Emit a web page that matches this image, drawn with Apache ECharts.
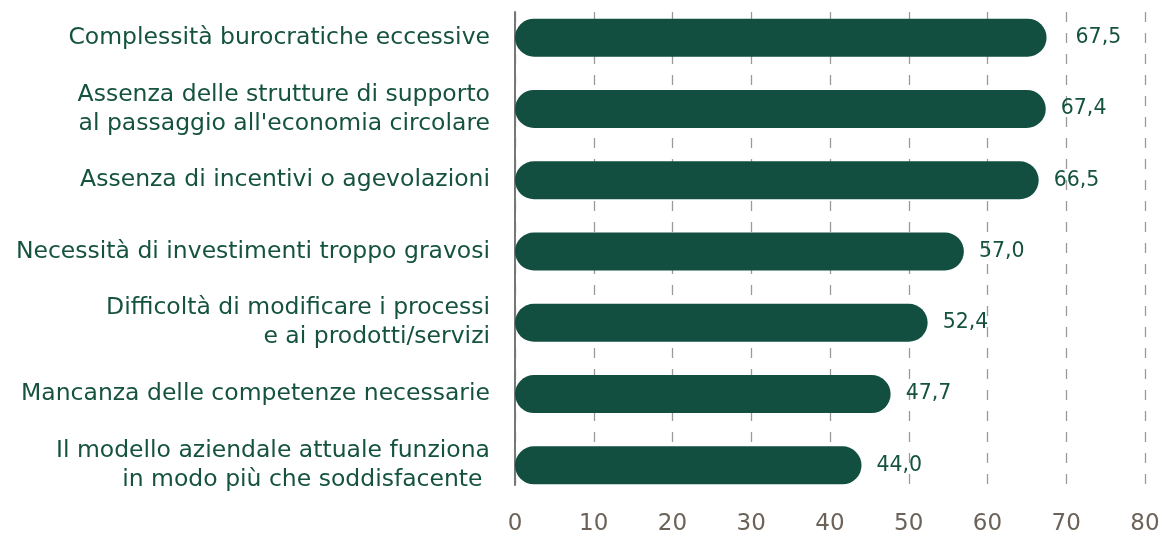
<!DOCTYPE html>
<html><head><meta charset="utf-8">
<script src="https://cdn.jsdelivr.net/npm/echarts@6/dist/echarts.min.js"></script>
<style>html,body{margin:0;padding:0;background:#fff}#c{width:1163px;height:536px}</style>
</head><body><div id="c"></div>
<script>
const categories = [
  "Complessità burocratiche eccessive",
  "Assenza delle strutture di supporto\nal passaggio all'economia circolare",
  "Assenza di incentivi o agevolazioni",
  "Necessità di investimenti troppo gravosi",
  "Difficoltà di modificare i processi\ne ai prodotti/servizi",
  "Mancanza delle competenze necessarie",
  "Il modello aziendale attuale funziona\nin modo più che soddisfacente "
];
const values = [67.5, 67.4, 66.5, 57.0, 52.4, 47.7, 44.0];
const xTicks = [0, 10, 20, 30, 40, 50, 60, 70, 80];

const FONT = "DejaVu Sans";
const GREEN = '#134f41';
const TXT = '#15533f';
const chart = echarts.init(document.getElementById('c'));
chart.setOption({
  animation: false,
  grid: [
    {left: 515, right: 18, top: 12, bottom: 49},
    {left: 515, right: 18, top: 2, bottom: 35}
  ],
  xAxis: [{
    gridIndex: 0, type: 'value', min: xTicks[0], max: xTicks[xTicks.length-1], interval: 10,
    axisLine: {show: false}, axisTick: {show: false},
    axisLabel: {color: '#6b6359', fontSize: 23, fontFamily: FONT, margin: 28},
    splitLine: {show: true, lineStyle: {color: '#9a9a9a', width: 1.3, type: [10, 11]}}
  }, {
    gridIndex: 1, type: 'value', min: xTicks[0], max: xTicks[xTicks.length-1], interval: 10,
    show: false, splitLine: {show: false}
  }],
  yAxis: [{
    gridIndex: 0, type: 'category', data: categories, inverse: true,
    axisLine: {show: true, lineStyle: {color: '#777777', width: 2}},
    axisTick: {show: false}, axisLabel: {show: false}, splitLine: {show: false}
  }, {
    gridIndex: 1, type: 'category', data: categories, inverse: true,
    axisLine: {show: false}, axisTick: {show: false},
    axisLabel: {color: TXT, fontSize: 23.5, fontFamily: FONT, margin: 25, lineHeight: 29, align: 'right'}
  }],
  series: [{
    type: 'bar', xAxisIndex: 1, yAxisIndex: 1,
    data: values.map((v, i) => i === 0 ? {value: v, label: {distance: 29}} : v),
    barWidth: 38,
    itemStyle: {color: GREEN, borderRadius: 19},
    label: {show: true, position: 'right', distance: 15, color: TXT, fontSize: 20.5, fontFamily: FONT,
      formatter: p => p.value.toFixed(1).replace('.', ',')}
  }]
});
</script></body></html>
